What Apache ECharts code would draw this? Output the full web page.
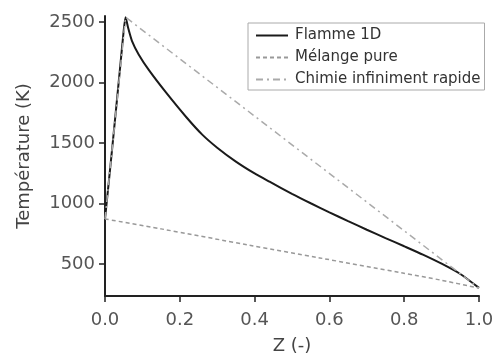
<!DOCTYPE html>
<html>
<head>
<meta charset="utf-8">
<script src="https://cdn.jsdelivr.net/npm/echarts@6/dist/echarts.min.js"></script>
<style>
  html, body { margin: 0; padding: 0; background: #fff; }
  #chart { width: 502px; height: 354px; }
</style>
</head>
<body>
<div id="chart"></div>
<script>
// values, [Z, T]
const flamme1D = [
  [0, 870], [0.02, 1480], [0.04, 2110], [0.05, 2430], [0.055, 2540],
  [0.062, 2450], [0.072, 2345], [0.09, 2232], [0.118, 2100], [0.163, 1918],
  [0.217, 1715], [0.26, 1569], [0.3, 1461], [0.35, 1346], [0.4, 1248],
  [0.44, 1180], [0.5, 1080], [0.55, 1002], [0.6, 927], [0.65, 854],
  [0.7, 783], [0.75, 714], [0.8, 646], [0.85, 577], [0.9, 502],
  [0.95, 417], [1.0, 302]
];
const melangePure = [
  [0, 872], [0.15, 790], [0.386, 655], [0.574, 550], [0.796, 425],
  [0.9, 365], [1.0, 300]
];
const chimieRapide = [[0, 872], [0.055, 2540], [1.0, 300]];
const yTickValues = [500, 1000, 1500, 2000, 2500];
const seriesNames = ["Flamme 1D", "Mélange pure", "Chimie infiniment rapide"];

const font = "DejaVu Sans";
const chart = echarts.init(document.getElementById("chart"));

const option = {
  animation: false,
  backgroundColor: "#fff",
  textStyle: { fontFamily: font },
  grid: { left: 105, right: 23, top: 16, bottom: 58, containLabel: false, outerBoundsMode: "none" },
  legend: {
    orient: "vertical",
    left: 248,
    top: 23,
    width: 238,
    padding: [5, 4, 3, 7],
    itemWidth: 32,
    itemHeight: 14,
    itemGap: 7,
    backgroundColor: "#fff",
    borderColor: "#aaa",
    borderWidth: 1,
    itemStyle: { opacity: 0 },
    textStyle: { fontFamily: font, fontSize: 15, color: "#333", padding: [0, 0, 0, 2] },
    data: seriesNames
  },
  xAxis: {
    type: "value",
    min: 0,
    max: 1,
    interval: 0.2,
    name: "Z (-)",
    nameLocation: "middle",
    nameGap: 41,
    nameTextStyle: { fontFamily: font, fontSize: 18, color: "#444" },
    axisLine: { lineStyle: { color: "#222", width: 2 } },
    axisTick: { length: 6, lineStyle: { color: "#222", width: 1.5 } },
    axisLabel: {
      fontFamily: font, fontSize: 18, color: "#555", margin: 15,
      formatter: v => v.toFixed(1)
    },
    splitLine: { show: false }
  },
  yAxis: {
    type: "value",
    min: 235,
    max: 2550,
    name: "Température (K)",
    nameLocation: "middle",
    nameGap: 72,
    nameTextStyle: { fontFamily: font, fontSize: 18, color: "#444" },
    axisLine: { show: true, lineStyle: { color: "#222", width: 2 } },
    axisTick: { show: true, length: 6, customValues: yTickValues, lineStyle: { color: "#222", width: 1.5 } },
    axisLabel: {
      fontFamily: font, fontSize: 18, color: "#555", margin: 10,
      customValues: yTickValues, formatter: v => String(v)
    },
    splitLine: { show: false }
  },
  series: [
    {
      name: seriesNames[0],
      type: "line",
      data: flamme1D,
      symbol: "none",
      smooth: 0.2,
      z: 3,
      itemStyle: { color: "#1a1a1a" },
      lineStyle: { color: "#1a1a1a", width: 2 }
    },
    {
      name: seriesNames[1],
      type: "line",
      data: melangePure,
      symbol: "none",
      smooth: 0.3,
      itemStyle: { color: "#999" },
      lineStyle: { color: "#999", width: 1.5, type: [4, 3] }
    },
    {
      name: seriesNames[2],
      type: "line",
      data: chimieRapide,
      symbol: "none",
      itemStyle: { color: "#aaa" },
      lineStyle: { color: "#aaa", width: 1.5, type: [7, 4, 2, 4] }
    }
  ]
};

chart.setOption(option);
</script>
</body>
</html>
